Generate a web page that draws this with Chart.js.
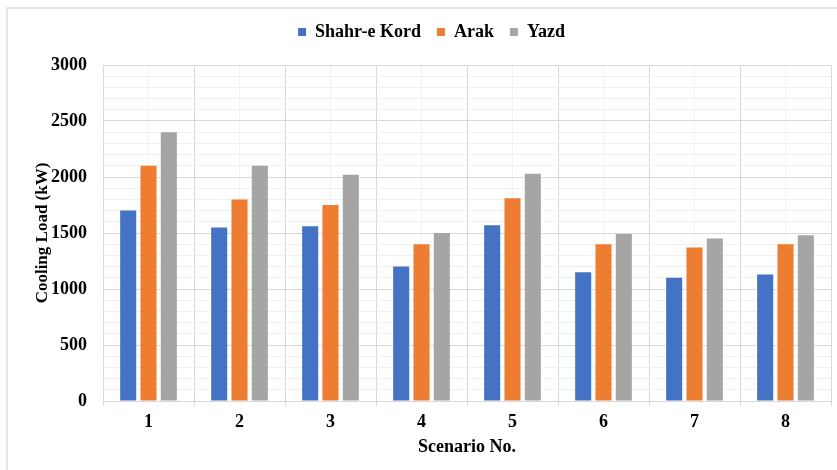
<!DOCTYPE html>
<html>
<head>
<meta charset="utf-8">
<script src="https://cdn.jsdelivr.net/npm/chart.js@4/dist/chart.umd.min.js"></script>
<style>
  html, body { margin: 0; padding: 0; background: #fff; overflow: hidden; }
  #wrap { position: relative; width: 837px; height: 470px; }
  #frame { position: absolute; left: 6px; top: 7px; width: 2000px; height: 2000px;
           border-left: 2px solid #e6e6e6; border-top: 2px solid #e6e6e6; pointer-events: none; }
  canvas { display: block; }
</style>
</head>
<body>
<div id="wrap">
  <canvas id="c" width="837" height="470"></canvas>
  <div id="frame"></div>
</div>
<script>
const categories = ['1', '2', '3', '4', '5', '6', '7', '8'];
const shahreKord = [1700, 1550, 1560, 1200, 1570, 1150, 1100, 1130];
const arak       = [2100, 1800, 1750, 1400, 1810, 1400, 1370, 1400];
const yazd       = [2400, 2100, 2020, 1500, 2030, 1490, 1450, 1480];
const seriesNames = ['Shahr-e Kord', 'Arak', 'Yazd'];
const yMin = 0, yMax = 3000, yMajor = 500, yMinor = 100;

const FONT = "'Liberation Serif', 'Times New Roman', serif";
Chart.defaults.font.family = FONT;
Chart.defaults.font.weight = 'bold';
Chart.defaults.color = '#000';

const legendSpacer = {
  id: 'legendSpacer',
  afterInit(chart) {
    const lg = chart.legend;
    if (lg) {
      const orig = lg.fit;
      lg.fit = function () { orig.call(this); this.height += 14; };
    }
  }
};

new Chart(document.getElementById('c'), {
  type: 'bar',
  plugins: [legendSpacer],
  data: {
    labels: categories,
    datasets: [
      { label: seriesNames[0], data: shahreKord, backgroundColor: '#4472C4' },
      { label: seriesNames[1], data: arak,       backgroundColor: '#ED7D31' },
      { label: seriesNames[2], data: yazd,       backgroundColor: '#A5A5A5' }
    ]
  },
  options: {
    responsive: false,
    animation: false,
    devicePixelRatio: 1,
    categoryPercentage: 0.67,
    barPercentage: 0.79,
    layout: { padding: { top: 7, right: 6, left: 32, bottom: 10 } },
    plugins: {
      tooltip: { enabled: false },
      legend: {
        position: 'top',
        labels: {
          boxWidth: 8, boxHeight: 8, padding: 16, color: '#000',
          font: { family: FONT, size: 18, weight: 'bold' }
        }
      }
    },
    scales: {
      x: {
        type: 'category',
        position: 'bottom',
        offset: true,
        grid: { offset: true, color: '#d9d9d9', lineWidth: 1, tickLength: 5, drawTicks: true, tickColor: '#d9d9d9' },
        border: { display: true, color: '#d9d9d9' },
        ticks: { color: '#000', padding: 6, font: { family: FONT, size: 18, weight: 'bold' } },
        title: { display: true, text: 'Scenario No.', color: '#000', padding: { top: 0, bottom: 2 },
                 font: { family: FONT, size: 18, weight: 'bold' } },
        afterFit(s) { s.height = 59; }
      },
      x2: {
        type: 'category',
        labels: categories,
        position: 'bottom',
        offset: true,
        grid: { offset: false, color: '#f2f2f2', drawTicks: false },
        border: { display: false },
        ticks: { display: false },
        afterFit(s) { s.height = 0; }
      },
      y: {
        min: yMin, max: yMax,
        grid: {
          drawTicks: false,
          color: (ctx) => (ctx.tick && ctx.tick.value % yMajor === 0) ? '#d9d9d9' : '#f0f0f0',
          lineWidth: 1
        },
        border: { display: false },
        ticks: {
          stepSize: yMinor, autoSkip: false, padding: 16, color: '#000',
          font: { family: FONT, size: 18, weight: 'bold' },
          callback: (v) => (v % yMajor === 0 ? String(v) : '')
        },
        title: { display: true, text: 'Cooling Load (kW)', color: '#000', padding: { top: 0, bottom: 0 },
                 font: { family: FONT, size: 17, weight: 'bold' } },
        afterFit(s) { s.width = 71; }
      }
    }
  }
});
</script>
</body>
</html>
